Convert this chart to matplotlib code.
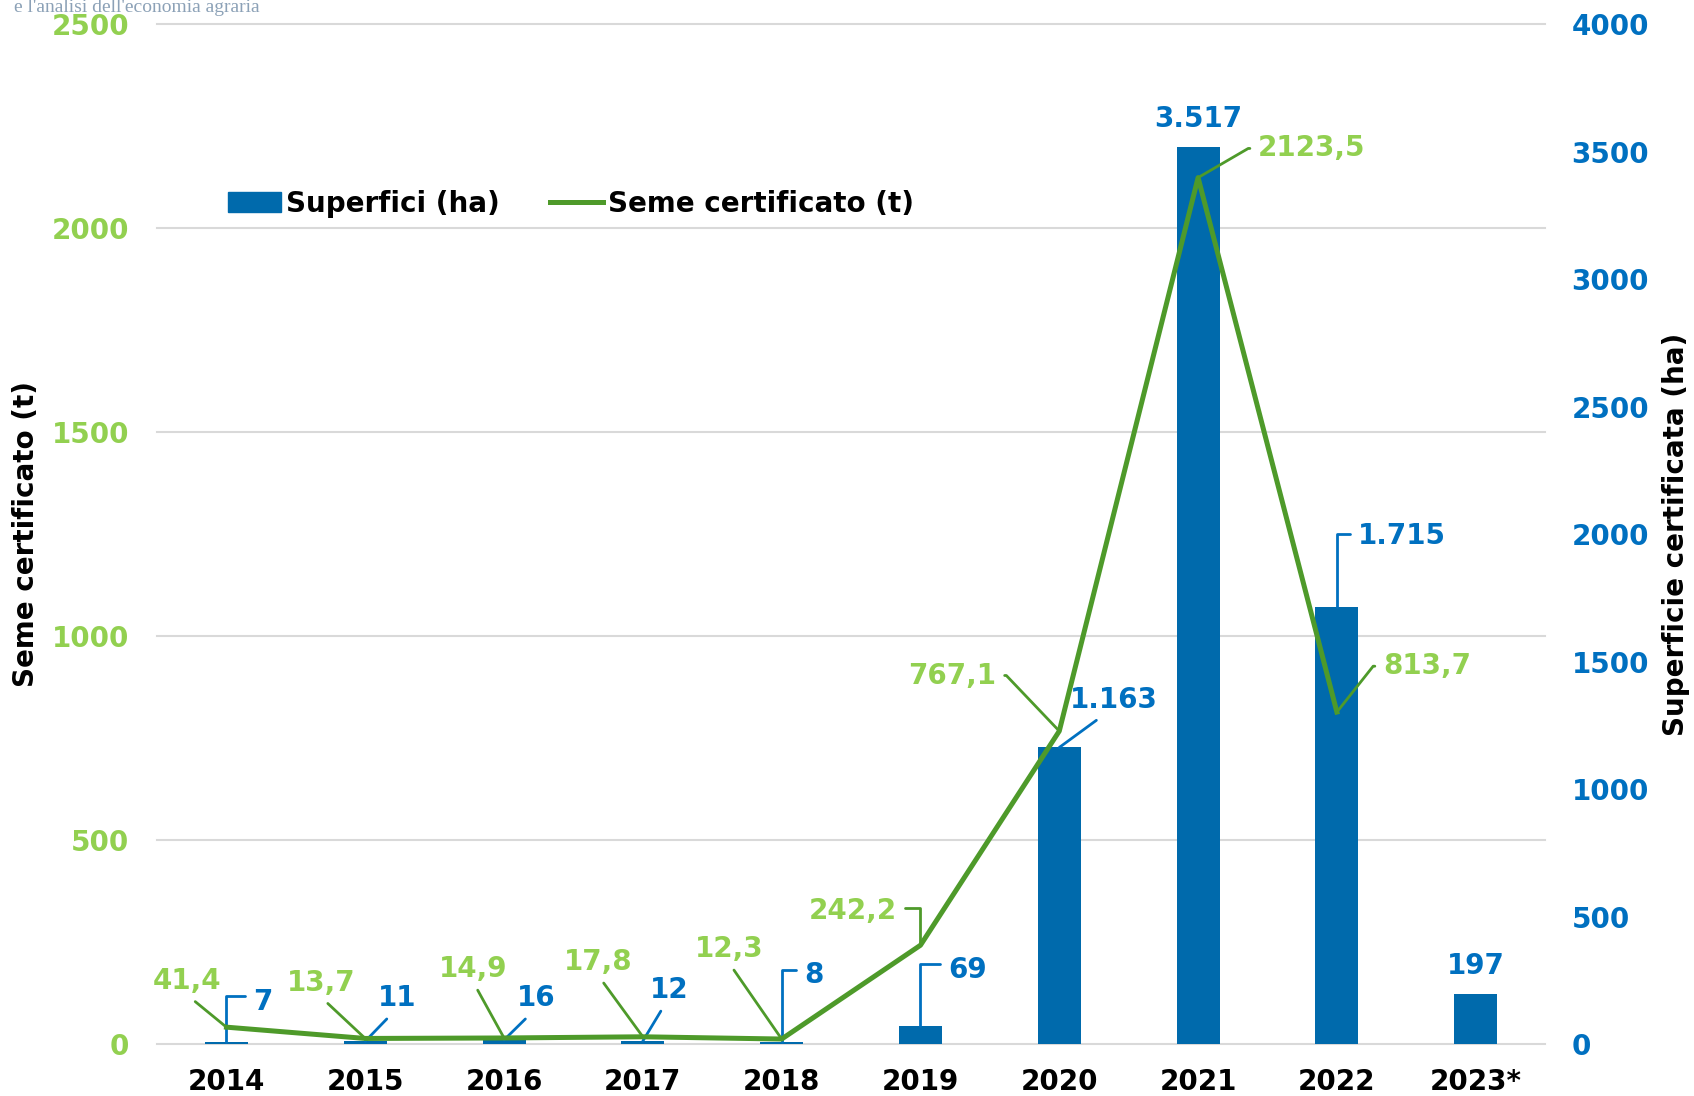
import numpy as np
import matplotlib
matplotlib.use("Agg")
import matplotlib.pyplot as plt
from matplotlib.patches import Patch
from matplotlib.lines import Line2D

# dati
anni = ["2014", "2015", "2016", "2017", "2018", "2019", "2020", "2021", "2022", "2023*"]
superfici = [7, 11, 16, 12, 8, 69, 1163, 3517, 1715, 197]
seme = [41.4, 13.7, 14.9, 17.8, 12.3, 242.2, 767.1, 2123.5, 813.7, np.nan]

BLU = "#006AAC"
BLU_TXT = "#0070C0"
VERDE = "#4E9A2A"
VERDE_TXT = "#92D050"

plt.rcParams['font.family'] = ['DejaVu Sans']
plt.rcParams['font.weight'] = 'bold'

fig = plt.figure(figsize=(16.94, 10.96), dpi=100)
ax = fig.add_axes([0.0927, 0.0474, 0.8194, 0.9307])
ax2 = ax.twinx()
ax.set_zorder(ax2.get_zorder() + 1)
ax.patch.set_visible(False)

x = np.arange(len(anni))
ax2.bar(x, superfici, width=0.31, color=BLU, zorder=2)
ax.plot(x, seme, color=VERDE, lw=3.6, zorder=3)

ax.set_xlim(-0.5, len(anni) - 0.5)
ax.set_ylim(0, 2500)
ax2.set_ylim(0, 4000)
ax.set_yticks(np.arange(0, 2501, 500))
ax2.set_yticks(np.arange(0, 4001, 500))
ax.set_xticks(x, anni)

ax.tick_params(axis='y', length=0, pad=20, labelsize=20, labelcolor=VERDE_TXT)
ax2.tick_params(axis='y', length=0, pad=19, labelsize=20, labelcolor=BLU_TXT)
ax.tick_params(axis='x', length=0, pad=17, labelsize=20, labelcolor='black')

# griglia sui tick di sinistra (4000/5 = 800 ha = 500 t)
ax2.yaxis.remove_overlapping_locs = False
ax2.set_yticks(np.linspace(0, 4000, 6), minor=True)
ax2.tick_params(which='minor', length=0)
ax2.set_axisbelow(True)
ax2.grid(which='minor', axis='y', color='#D9D9D9', lw=1.5, clip_on=False)

for a in (ax, ax2):
    for s in a.spines.values():
        s.set_visible(False)

ax.set_ylabel("Seme certificato (t)", fontsize=20, fontweight='bold', color='black')
ax.yaxis.set_label_coords(-0.084, 0.5)
ax2.set_ylabel("Superficie certificata (ha)", fontsize=20, fontweight='bold', color='black')
ax2.yaxis.set_label_coords(1.084, 0.5)


def arco(angolo):
    return f"arc,angleA={angolo},armA=10,angleB=0,armB=0,rad=0"


def gomito(angolo):
    return f"angle,angleA={angolo},angleB=90,rad=0"


# etichette seme (verde)
seme_off = [(-28, 33), (-32, 40), (-22, 50), (-32, 54), (-38, 65), (-49, 25), (-77, 40), (82, 21), (65, 33)]
seme_rel = [(0.5, 0)] * 5 + [(1, 0.6), (1, 0.5), (0, 0.5), (0, 0.5)]
seme_conn = ["arc3"] * 5 + [gomito(0), arco(0), arco(180), arco(180)]
for i, v in enumerate(seme):
    if np.isnan(v):
        continue
    ax.annotate(f"{v:.1f}".replace(".", ","), (x[i], v), xytext=seme_off[i],
                textcoords="offset points", ha="center", va="center",
                fontsize=20, color=VERDE_TXT, zorder=4,
                arrowprops=dict(arrowstyle="-", color=VERDE, lw=2,
                                shrinkA=4, shrinkB=0, relpos=seme_rel[i],
                                connectionstyle=seme_conn[i]))

# etichette superfici (blu)
sup_off = [(26, 29), (23, 31), (23, 30), (19, 37), (23, 48), (34, 41), (39, 34), (0, 20), (47, 51), (0, 20)]
sup_rel = [(0, 0.7), (0.4, 0), (0.4, 0), (0.4, 0), (0, 0.7), (0, 0.7), (0.4, 0), None, (0, 0.55), None]
sup_conn = [gomito(180), "arc3", "arc3", "arc3", gomito(180), gomito(180), "arc3", None, gomito(180), None]
for i, v in enumerate(superfici):
    testo = f"{v:,}".replace(",", ".")
    if sup_conn[i] is None:
        ax2.annotate(testo, (x[i], v), xytext=sup_off[i], textcoords="offset points",
                     ha="center", va="center", fontsize=20, color=BLU_TXT)
    else:
        ax2.annotate(testo, (x[i], v), xytext=sup_off[i], textcoords="offset points",
                     ha="center", va="center", fontsize=20, color=BLU_TXT,
                     arrowprops=dict(arrowstyle="-", color=BLU_TXT, lw=2,
                                     shrinkA=4, shrinkB=0, relpos=sup_rel[i],
                                     connectionstyle=sup_conn[i]))

maniglie = [Patch(color=BLU), Line2D([], [], color=VERDE, lw=3.6)]
ax.legend(maniglie, ["Superfici (ha)", "Seme certificato (t)"], loc="center left",
          bbox_to_anchor=(0.051, 0.824), ncol=2, frameon=False, fontsize=20,
          handlelength=1.9, handletextpad=0.2, columnspacing=1.8,
          borderaxespad=0, borderpad=0)

# resto del logo in alto a sinistra
fig.text(0.008, 1 - 12 / 1096, "e l'analisi dell'economia agraria", family="Liberation Serif",
         fontsize=14, fontweight="normal", color="#6F8AA5", va="baseline", alpha=0.8)

fig.savefig("out.png", dpi=100)
